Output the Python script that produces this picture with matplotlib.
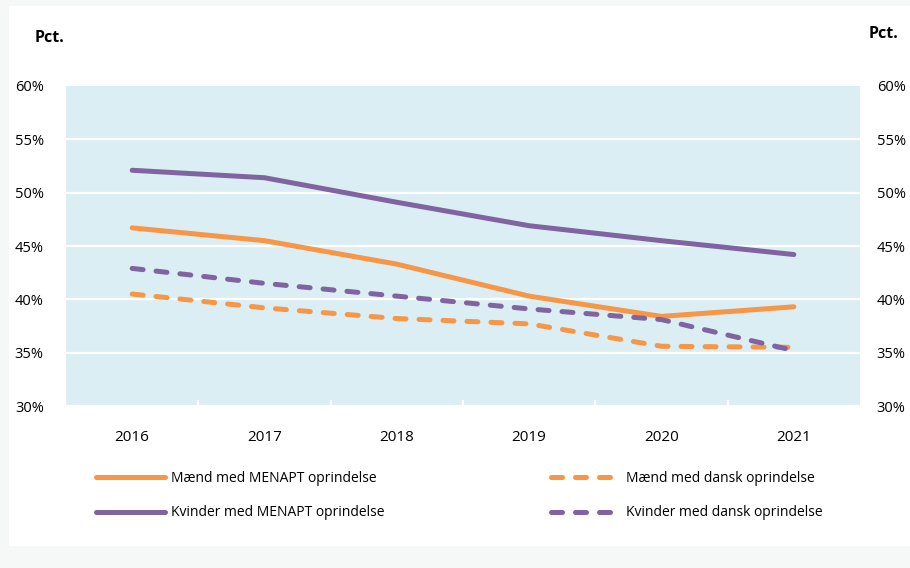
import matplotlib.pyplot as plt
import matplotlib.patches as patches
import numpy as np

plt.rcParams['font.family'] = ['Open Sans', 'DejaVu Sans']

years = ['2016', '2017', '2018', '2019', '2020', '2021']
maend_menapt = [46.7, 45.5, 43.3, 40.3, 38.4, 39.3]
kvinder_menapt = [52.1, 51.4, 49.1, 46.9, 45.5, 44.2]
maend_dansk = [40.5, 39.2, 38.2, 37.7, 35.6, 35.5]
kvinder_dansk = [42.9, 41.5, 40.3, 39.1, 38.1, 35.2]
yticks = [30, 35, 40, 45, 50, 55, 60]

orange = '#F79646'
purple = '#8064A2'

fig = plt.figure(figsize=(9.1, 5.68), dpi=100)
fig.patch.set_facecolor('#f6f8f8')
# white panel behind the chart
fig.add_artist(patches.Rectangle((9 / 910, (568 - 546) / 568), 1, (546 - 6) / 568,
                                 transform=fig.transFigure, facecolor='white',
                                 edgecolor='none', zorder=0))

ax = fig.add_axes([66 / 910, (568 - 406) / 568, 794 / 910, 320 / 568])
ax.set_facecolor('#DBEEF4')
x = np.arange(len(years))

# gridlines (no line at the top edge)
for v in yticks[1:-1]:
    ax.axhline(v, color='white', lw=1.6, zorder=1)

lw = 3.6
ax.plot(x, maend_menapt, color=orange, lw=lw, solid_capstyle='round',
        solid_joinstyle='round', label='Mænd med MENAPT oprindelse', zorder=3)
ax.plot(x, kvinder_menapt, color=purple, lw=lw, solid_capstyle='round',
        solid_joinstyle='round', label='Kvinder med MENAPT oprindelse', zorder=3)
ax.plot(x, maend_dansk, color=orange, lw=lw, dashes=(2.2, 2.6), dash_capstyle='round',
        label='Mænd med dansk oprindelse', zorder=3)
ax.plot(x, kvinder_dansk, color=purple, lw=lw, dashes=(2.2, 2.6), dash_capstyle='round',
        label='Kvinder med dansk oprindelse', zorder=3)

ax.set_xlim(-0.5, len(years) - 0.5)
ax.set_ylim(30, 60)
ax.set_xticks(x)
ax.set_xticklabels(years)
ax.set_xticks(np.arange(0.5, len(years) - 0.5, 1), minor=True)
ax.tick_params(axis='x', which='major', length=0, pad=17, labelsize=11)
ax.tick_params(axis='x', which='minor', direction='in', length=4, width=1.5, color='white')
ax.set_yticks(yticks)
ax.set_yticklabels([f'{v}%' for v in yticks])
ax.tick_params(axis='y', length=0, pad=16, labelsize=10.5)
for s in ['top', 'left', 'right']:
    ax.spines[s].set_visible(False)
ax.spines['bottom'].set_color('white')
ax.spines['bottom'].set_linewidth(1.6)

ax2 = ax.twinx()
ax2.set_ylim(30, 60)
ax2.set_yticks(yticks)
ax2.set_yticklabels([f'{v}%' for v in yticks])
ax2.tick_params(axis='y', length=0, pad=12, labelsize=10.5)
for s in ax2.spines.values():
    s.set_visible(False)

fig.text(35 / 910, 1 - 38 / 568, 'Pct.', fontsize=11.5, fontweight='bold', va='center')
fig.text(869 / 910, 1 - 34 / 568, 'Pct.', fontsize=11.5, fontweight='bold', va='center')

handles, labels = ax.get_legend_handles_labels()
fig.legend(handles, labels, ncol=2, loc='upper left',
           bbox_to_anchor=(96 / 910, 1 - 471 / 568), frameon=False,
           fontsize=10, handlelength=5, handletextpad=0.4, columnspacing=12.0,
           labelspacing=1.4, borderpad=0, borderaxespad=0)

fig.savefig('out.png', dpi=100, facecolor=fig.get_facecolor())
